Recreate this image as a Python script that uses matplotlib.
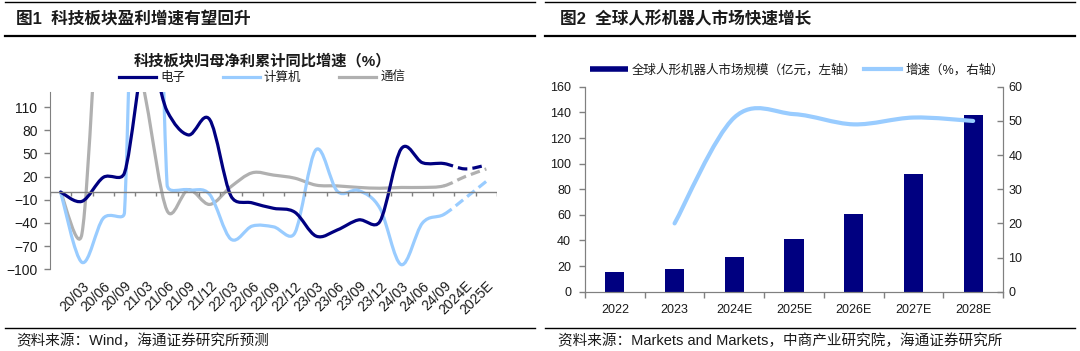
import matplotlib
matplotlib.use("Agg")
import matplotlib.pyplot as plt
import numpy as np
from matplotlib.path import Path
from matplotlib.patches import PathPatch
from matplotlib.lines import Line2D

plt.rcParams['font.family'] = ['Liberation Sans', 'Noto Sans CJK SC', 'DejaVu Sans']

# ---- data: left chart (科技板块归母净利累计同比增速, %) ----
periods = ['', '20/03', '20/06', '20/09', '21/03', '21/06', '21/09', '21/12',
           '22/03', '22/06', '22/09', '22/12', '23/03', '23/06', '23/09',
           '23/12', '24/03', '24/06', '24/09', '2024E', '2025E']
electronics = [0, -12, 19, 25, 180, 105, 74, 94, -5, -14, -21, -26, -57,
               -49, -36, -38, 56, 38, 37, 30, 35]
computers = [0, -91, -34, -26, 1000, 10, 3, -3, -61, -44, -45, -53, 55,
             1, 2, -21, -94, -40, -29, -8, 14]
telecom = [0, -54, 320, 260, 120, -24, 3, -16, 7, 25, 22, 18, 9, 8, 6, 5,
           6, 6, 8, 20, 30]
n_actual = 19  # last actual point is 24/09, the rest are forecasts

# ---- data: right chart (全球人形机器人市场) ----
years = ['2022', '2023', '2024E', '2025E', '2026E', '2027E', '2028E']
market_size = [15, 18, 27, 41, 61, 92, 138]
growth = [None, 20, 51, 52, 49, 51, 50]

W, H = 1080, 351
NAVY = '#000080'
LIGHT = '#99CCFF'
GRAY = '#B0B0B0'
AXC = '#808080'
TXT = '#1a1a1a'


def fx(x):
    return x / W


def fy(y):
    return 1 - y / H


def smooth_path(xs, ys, sx, sy, i0, i1):
    # Excel-like smoothed line (Catmull-Rom bezier, tangents limited)
    P = np.column_stack([np.asarray(xs, float) * sx, np.asarray(ys, float) * sy])
    n = len(P)
    verts = [P[i0]]
    codes = [Path.MOVETO]
    for i in range(i0, i1):
        p0, p1 = P[max(i - 1, 0)], P[i]
        p2, p3 = P[i + 1], P[min(i + 2, n - 1)]
        seg = np.linalg.norm(p2 - p1)
        t1 = (p2 - p0) / 6
        t2 = (p3 - p1) / 6
        for t in (t1, t2):
            ln = np.linalg.norm(t)
            if ln > 0.5 * seg:
                t *= 0.5 * seg / ln
        verts += [p1 + t1, p2 - t2, p2]
        codes += [Path.CURVE4] * 3
    verts = np.array(verts) / [sx, sy]
    return Path(verts, codes)


fig = plt.figure(figsize=(W / 100, H / 100), dpi=100)

# ---- header / footer rules and titles ----
for x0, x1 in [(5, 535), (545, 1075)]:
    fig.add_artist(Line2D([fx(x0), fx(x1)], [fy(2), fy(2)], color='black', lw=1.0))
    fig.add_artist(Line2D([fx(x0), fx(x1)], [fy(36), fy(36)], color='black', lw=1.6))
    fig.add_artist(Line2D([fx(x0), fx(x1)], [fy(328), fy(328)], color='black', lw=1.0))

fig.text(fx(16), fy(19), '图1  科技板块盈利增速有望回升', fontsize=12,
         fontweight='bold', va='center', ha='left', color=TXT)
fig.text(fx(560), fy(19), '图2  全球人形机器人市场快速增长', fontsize=12,
         fontweight='bold', va='center', ha='left', color=TXT)
fig.text(fx(16), fy(341), '资料来源：Wind，海通证券研究所预测', fontsize=10.5,
         va='center', ha='left', color=TXT)
fig.text(fx(558), fy(341), '资料来源：Markets and Markets，中商产业研究院，海通证券研究所',
         fontsize=10.5, va='center', ha='left', color=TXT)

# ---- left chart ----
L_left, L_right, L_top, L_bot = 50, 497, 91.7, 269.3
ax = fig.add_axes([fx(L_left), fy(L_bot), fx(L_right - L_left), (L_bot - L_top) / H])
ymin, ymax = -100, 130
ax.set_xlim(-0.5, len(periods) - 0.5)
ax.set_ylim(ymin, ymax)
sx = (L_right - L_left) / len(periods)
sy = (L_bot - L_top) / (ymax - ymin)

x = np.arange(len(periods))
for vals, col in [(telecom, GRAY), (computers, LIGHT), (electronics, NAVY)]:
    solid = smooth_path(x, vals, sx, sy, 0, n_actual - 1)
    ax.add_patch(PathPatch(solid, fill=False, edgecolor=col, lw=2.3,
                           capstyle='round', joinstyle='round'))
    dashed = smooth_path(x, vals, sx, sy, n_actual - 1, len(periods) - 1)
    ax.add_patch(PathPatch(dashed, fill=False, edgecolor=col, lw=2.3,
                           linestyle=(0, (3, 1.6))))

ax.axhline(0, color=AXC, lw=1, zorder=1)
ax.vlines(np.arange(-0.5, len(periods), 1), -5, 0, color=AXC, lw=1, zorder=1)
for s in ['top', 'right', 'bottom']:
    ax.spines[s].set_visible(False)
ax.spines['left'].set_color(AXC)
ax.set_yticks(np.arange(-100, 111, 30))
ax.tick_params(axis='y', direction='out', length=4, width=1, color=AXC,
               pad=5, labelsize=10, labelcolor=TXT)
ax.set_xticks(x)
ax.set_xticklabels(periods, rotation=45, ha='right', va='top',
                   rotation_mode='anchor', fontsize=10, color=TXT)
ax.tick_params(axis='x', length=0, pad=7)
ax.patch.set_alpha(0)

fig.text(fx(262), fy(61), '科技板块归母净利累计同比增速（%）', fontsize=11,
         fontweight='bold', ha='center', va='center', color=TXT)
handles = [Line2D([], [], color=NAVY, lw=2.3),
           Line2D([], [], color=LIGHT, lw=2.3),
           Line2D([], [], color=GRAY, lw=2.3)]
ax.legend(handles, ['电子', '计算机', '通信'], ncol=3, loc='center',
          bbox_to_anchor=(fx(262), fy(78)), bbox_transform=fig.transFigure,
          frameon=False, fontsize=9, handlelength=3.0, handletextpad=0.3,
          columnspacing=3.0, borderpad=0, labelcolor=TXT)

# ---- right chart ----
R_left, R_right, R_top, R_bot = 585, 1003, 86.8, 291.7
axr = fig.add_axes([fx(R_left), fy(R_bot), fx(R_right - R_left), (R_bot - R_top) / H])
xr = np.arange(len(years))
axr.bar(xr, market_size, width=0.32, color=NAVY, zorder=2)
axr.set_xlim(-0.5, len(years) - 0.5)
axr.set_ylim(0, 160)
axr.set_yticks(np.arange(0, 161, 20))
axr.set_xticks(xr)
axr.set_xticklabels(years, fontsize=9, color=TXT)
axr.set_xticks(np.arange(-0.5, len(years), 1), minor=True)
axr.tick_params(axis='x', which='major', length=0, pad=9)
axr.tick_params(axis='x', which='minor', length=4, width=1, color=AXC, direction='out')
axr.tick_params(axis='y', direction='out', length=4, width=1, color=AXC,
                pad=6, labelsize=9, labelcolor=TXT)
axr.spines['top'].set_visible(False)
for s in ['left', 'bottom', 'right']:
    axr.spines[s].set_color(AXC)

ax2 = axr.twinx()
ax2.set_ylim(0, 60)
ax2.set_yticks(np.arange(0, 61, 10))
ax2.tick_params(axis='y', direction='in', length=4, width=1, color=AXC,
                pad=4, labelsize=9, labelcolor=TXT)
ax2.spines['top'].set_visible(False)
for s in ['left', 'bottom', 'right']:
    ax2.spines[s].set_color(AXC)
gx = [i for i, g in enumerate(growth) if g is not None]
gy = [g for g in growth if g is not None]
rsx = (R_right - R_left) / len(years)
rsy = (R_bot - R_top) / 60
ax2.add_patch(PathPatch(smooth_path(gx, gy, rsx, rsy, 0, len(gx) - 1),
                        fill=False, edgecolor=LIGHT, lw=3.0, capstyle='round'))

rh = [Line2D([], [], color=NAVY, lw=4, solid_capstyle='butt'),
      Line2D([], [], color=LIGHT, lw=3)]
axr.legend(rh, ['全球人形机器人市场规模（亿元，左轴）', '增速（%，右轴）'], ncol=2,
           loc='center', bbox_to_anchor=(fx(797), fy(70)),
           bbox_transform=fig.transFigure, frameon=False, fontsize=9,
           handlelength=3.0, handletextpad=0.3, columnspacing=0.6,
           borderpad=0, labelcolor=TXT)

fig.savefig('out.png', dpi=100)
